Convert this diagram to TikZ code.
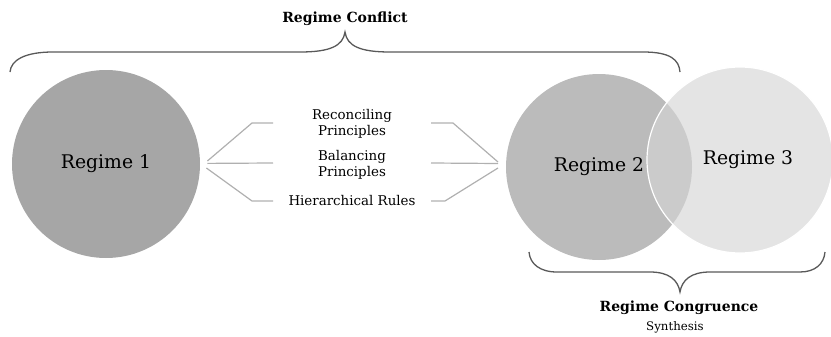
\documentclass[tikz,border=0pt]{standalone}
\usepackage{fontspec}
\setmainfont{DejaVu Serif}
\usetikzlibrary{positioning}

\definecolor{grisuno}{HTML}{A6A6A6}
\definecolor{grisdos}{HTML}{BBBBBB}
\definecolor{gristres}{HTML}{D5D5D5}
\definecolor{grislinea}{HTML}{B0B0B0}

\begin{document}
\begin{tikzpicture}[x=0.5pt, y=-0.5pt,
    regime/.style={circle, inner sep=0pt, minimum size=94pt, font=\fontsize{9.4}{11}\selectfont},
    enlace/.style={draw=grislinea, line width=0.6pt},
    rotulo/.style={align=center, inner sep=1pt, font=\fontsize{6.7}{8}\selectfont},
    titulo/.style={inner sep=1pt, font=\bfseries\fontsize{7}{8}\selectfont},
    llave/.style={draw=black!65, line width=0.65pt}]
    \useasboundingbox (0,0) rectangle (831,337);

    % Regimenes
    \node[regime, fill=grisuno] (R1) at (106,164) {Regime 1};
    \node[regime, fill=grisdos, minimum size=93pt] (R2) at (599,167) {Regime 2};
    \node[regime, fill=gristres, fill opacity=0.65, text opacity=1, draw=white, line width=0.6pt, minimum size=93pt] (R3) at (740,160) {\hspace{8pt}Regime 3};

    % Principios
    \node[rotulo] (rec) at (352,123.5) {Reconciling\\Principles};
    \node[rotulo] (bal) at (352,164.5) {Balancing\\Principles};
    \node[rotulo] (hie) at (352,201) {Hierarchical Rules};

    % Puntas de los enlaces
    \coordinate (izqa) at ([xshift=3.5pt, yshift=1.5pt]R1.east);
    \coordinate (izqb) at ([xshift=3.5pt, yshift=0.3pt]R1.east);
    \coordinate (izqc) at ([xshift=3pt, yshift=-2pt]R1.east);
    \coordinate (dera) at (498,162);
    \coordinate (derb) at (498,163.5);
    \coordinate (derc) at (498,168);
    \coordinate (reci) at (273,123);
    \coordinate (recd) at (431,123);
    \coordinate (bali) at (273,163);
    \coordinate (bald) at (431,163);
    \coordinate (hiei) at (273,201);
    \coordinate (hied) at (431,201);

    % Enlaces
    \draw[enlace] (izqa) -- (252,123) -- (reci);
    \draw[enlace] (izqb) -- (bali);
    \draw[enlace] (izqc) -- (252,201) -- (hiei);
    \draw[enlace] (recd) -- (453,123) -- (dera);
    \draw[enlace] (bald) -- (derb);
    \draw[enlace] (hied) -- (445,201) -- (derc);

    % Llaves
    \draw[llave] (10,72) .. controls (11,60) and (25,52) .. (53,52) -- (300,52)
        .. controls (330,52) and (343,46) .. (345,32)
        .. controls (347,46) and (360,52) .. (390,52) -- (643,52)
        .. controls (671,52) and (679,60) .. (680,72);
    \node[titulo] (conflicto) at (345,19) {Regime Conflict};

    \draw[llave] (529,252) .. controls (530,264) and (540,272) .. (557,272) -- (650,272)
        .. controls (669,272) and (678,280) .. (680,292)
        .. controls (682,280) and (691,272) .. (710,272) -- (800,272)
        .. controls (815,272) and (824,264) .. (825,252);
    \node[titulo] (congruencia) at (679,308) {Regime Congruence};
    \node[rotulo, font=\fontsize{5.9}{7}\selectfont] (sintesis) at (675,327) {Synthesis};

\end{tikzpicture}
\end{document}
